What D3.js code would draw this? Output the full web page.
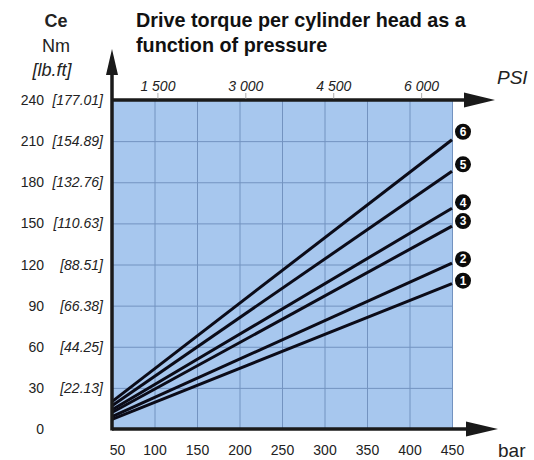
<!DOCTYPE html>
<html>
<head>
<meta charset="utf-8">
<script src="https://cdn.jsdelivr.net/npm/d3@7"></script>
<style>
  html, body { margin: 0; padding: 0; background: #fff; }
  svg { display: block; font-family: "Liberation Sans", Arial, sans-serif; }
</style>
</head>
<body>
<svg id="chart" width="534" height="460"></svg>
<script>
// Pressure axis (bar) and torque axis (Nm) ticks
const pressureBar = [50, 100, 150, 200, 250, 300, 350, 400, 450];
const torqueNm = [0, 30, 60, 90, 120, 150, 180, 210, 240];
const torqueLbft = ["", "22.13", "44.25", "66.38", "88.51", "110.63", "132.76", "154.89", "177.01"];
const pressurePsi = [1500, 3000, 4500, 6000];
const PSI_PER_BAR = 14.5038;

// Cylinder head curves: torque at 50 bar and at 450 bar
const curveIds = [1, 2, 3, 4, 5, 6];
const torqueAt50 = [7, 9, 12, 14, 17, 20];
const torqueAt450 = [106, 121, 148, 161, 188, 211];

const svg = d3.select("#chart");
const x = d3.scaleLinear().domain([50, 450]).range([112, 452]);
const y = d3.scaleLinear().domain([0, 240]).range([429, 100]);

const ink = "#1a1a1a";
const txt = "#222";
const font = "Liberation Sans, Arial, sans-serif";

// Blue plotting field
svg.append("rect")
  .attr("x", x(50)).attr("y", y(240))
  .attr("width", x(450) - x(50)).attr("height", y(0) - y(240))
  .attr("fill", "#a7c7ee");

// Grid
const grid = svg.append("g").attr("stroke", "#7393c0").attr("stroke-width", 1);
grid.selectAll("line.v").data(pressureBar.slice(1)).join("line")
  .attr("x1", d => x(d) + 0.5).attr("x2", d => x(d) + 0.5)
  .attr("y1", y(240)).attr("y2", y(0));
grid.selectAll("line.h").data(torqueNm.slice(1, -1)).join("line")
  .attr("x1", x(50)).attr("x2", x(450))
  .attr("y1", d => y(d) + 0.5).attr("y2", d => y(d) + 0.5);

// Torque curves
const line = d3.line().x(d => x(d[0])).y(d => y(d[1]));
const curves = curveIds.map((id, i) => ({ id, pts: [[50, torqueAt50[i]], [450, torqueAt450[i]]] }));
svg.append("g").selectAll("path").data(curves).join("path")
  .attr("d", d => line(d.pts))
  .attr("fill", "none").attr("stroke", "#0b0b18").attr("stroke-width", 3);

// Axes with arrowheads
const axes = svg.append("g").attr("stroke", ink).attr("stroke-width", 3.5);
axes.append("line").attr("x1", x(50)).attr("x2", 470).attr("y1", y(0)).attr("y2", y(0));
axes.append("line").attr("x1", x(50)).attr("x2", 470).attr("y1", y(240)).attr("y2", y(240));
axes.append("line").attr("x1", x(50)).attr("x2", x(50)).attr("y1", y(0) + 1.5).attr("y2", 70);
const heads = svg.append("g").attr("fill", ink);
heads.append("path").attr("d", `M466,${y(0) - 7.5}L498,${y(0)}L466,${y(0) + 7.5}Z`);
heads.append("path").attr("d", `M464,${y(240) - 7.5}L495,${y(240)}L464,${y(240) + 7.5}Z`);
heads.append("path").attr("d", `M${x(50) - 6},75L${x(50)},49L${x(50) + 6},75Z`);

// Bottom pressure labels (bar)
const xAxis = d3.axisBottom(x).tickValues(pressureBar).tickSize(0).tickPadding(0);
const gx = svg.append("g").attr("transform", `translate(0,${y(0) + 16})`).call(xAxis);
gx.select(".domain").remove();
gx.selectAll("text").attr("font-size", 14).attr("fill", txt).attr("font-family", font)
  .attr("dx", d => d === 50 ? 5 : 0);
svg.append("text").attr("x", 498).attr("y", 457).attr("font-size", 19).attr("fill", txt).text("bar");

// Top pressure labels (PSI)
const xPsi = d3.scaleLinear().domain([50 * PSI_PER_BAR, 450 * PSI_PER_BAR]).range(x.range());
const psiAxis = d3.axisTop(xPsi).tickValues(pressurePsi).tickSize(6).tickPadding(2)
  .tickFormat(d => d3.format(",")(d).replace(",", " "));
const gp = svg.append("g").attr("transform", `translate(0,${y(240) - 1})`).call(psiAxis);
gp.select(".domain").remove();
gp.selectAll(".tick line").attr("stroke", "#999").attr("stroke-width", 0.8);
gp.selectAll("text").attr("font-size", 14).attr("font-style", "italic").attr("fill", txt)
  .attr("font-family", font);
svg.append("text").attr("x", 497).attr("y", 84).attr("font-size", 19).attr("font-style", "italic")
  .attr("fill", txt).text("PSI");

// Left torque labels: Nm and [lb.ft]
const yl = svg.append("g").attr("font-size", 14).attr("fill", txt);
yl.selectAll("text.nm").data(torqueNm).join("text")
  .attr("x", 44).attr("y", d => y(d) + 5).attr("text-anchor", "end")
  .text(d => d);
yl.selectAll("text.lb").data(torqueNm).join("text")
  .attr("x", 103).attr("y", d => y(d) + 5).attr("text-anchor", "end")
  .attr("font-style", "italic")
  .text((d, i) => torqueLbft[i] ? `[${torqueLbft[i]}]` : "");

// Axis unit block
svg.append("text").attr("x", 56).attr("y", 27).attr("text-anchor", "middle")
  .attr("font-size", 18).attr("font-weight", "bold").attr("fill", txt).text("Ce");
svg.append("text").attr("x", 56).attr("y", 52).attr("text-anchor", "middle")
  .attr("font-size", 18).attr("fill", txt).text("Nm");
svg.append("text").attr("x", 52).attr("y", 76).attr("text-anchor", "middle")
  .attr("font-size", 18).attr("font-style", "italic").attr("fill", txt).text("[lb.ft]");

// Title
const title = svg.append("text").attr("font-size", 19.8)
  .attr("font-weight", "bold").attr("fill", "#111");
title.append("tspan").attr("x", 136).attr("y", 27).text("Drive torque per cylinder head as a");
title.append("tspan").attr("x", 136).attr("y", 52).text("function of pressure");

// Numbered curve markers
const marks = svg.append("g").selectAll("g").data(curves).join("g")
  .attr("transform", d => `translate(463,${y(d.pts[1][1]) - (2 + d.id)})`);
marks.append("circle").attr("r", 8).attr("fill", "#0b0b0b");
marks.append("text").attr("text-anchor", "middle").attr("dy", 4.3)
  .attr("font-size", 12).attr("font-weight", "bold").attr("fill", "#fff")
  .text(d => d.id);
</script>
</body>
</html>
